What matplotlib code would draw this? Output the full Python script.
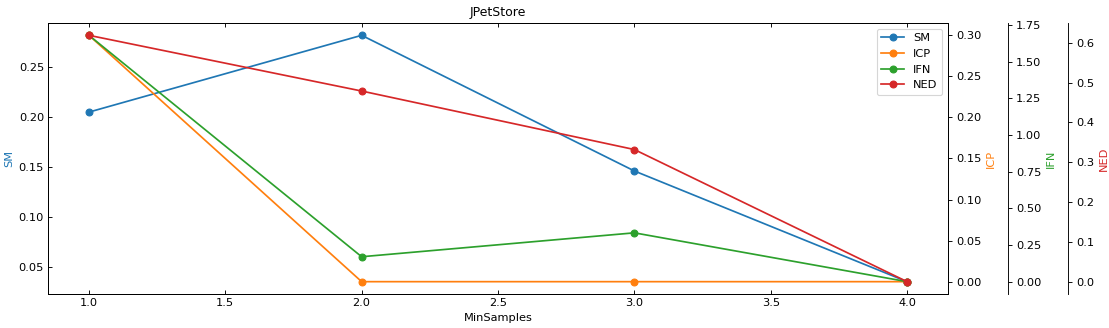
import numpy as np
import matplotlib
matplotlib.use("Agg")
import matplotlib.pyplot as plt

# values
min_samples = [1.0, 2.0, 3.0, 4.0]
sm = [0.205, 0.282, 0.146, 0.035]
icp = [0.30, 0.0, 0.0, 0.0]
ifn = [1.68, 0.17, 0.333, 0.0]
ned = [0.619, 0.479, 0.332, 0.0]

# original looks rendered at a lower dpi, so scale the whole figure
DPI = 82
fig = plt.figure(figsize=(1109 / DPI, 328 / DPI), dpi=DPI)
ax = fig.add_axes([0.0433, 0.1037, 0.8115, 0.8262])
ax.tick_params(direction='in', top=True)

ax2 = ax.twinx()
ax3 = ax.twinx()
ax4 = ax.twinx()
ax3.spines['right'].set_position(('axes', 1.0667))
ax4.spines['right'].set_position(('axes', 1.1333))

l1, = ax.plot(min_samples, sm, 'o-', color='C0', label='SM')
l2, = ax2.plot(min_samples, icp, 'o-', color='C1', label='ICP')
l3, = ax3.plot(min_samples, ifn, 'o-', color='C2', label='IFN')
l4, = ax4.plot(min_samples, ned, 'o-', color='C3', label='NED')

ax.set_xlabel('MinSamples')
ax.set_ylabel('SM', color='C0')
ax2.set_ylabel('ICP', color='C1')
ax3.set_ylabel('IFN', color='C2')
ax4.set_ylabel('NED', color='C3')
ax.set_title('JPetStore', fontsize=11)

ax4.legend(handles=[l1, l2, l3, l4], loc='upper right',
           bbox_to_anchor=(0.0433 + 0.8115, 0.1037 + 0.8262),
           bbox_transform=fig.transFigure)

fig.savefig('out.png', dpi=DPI)
